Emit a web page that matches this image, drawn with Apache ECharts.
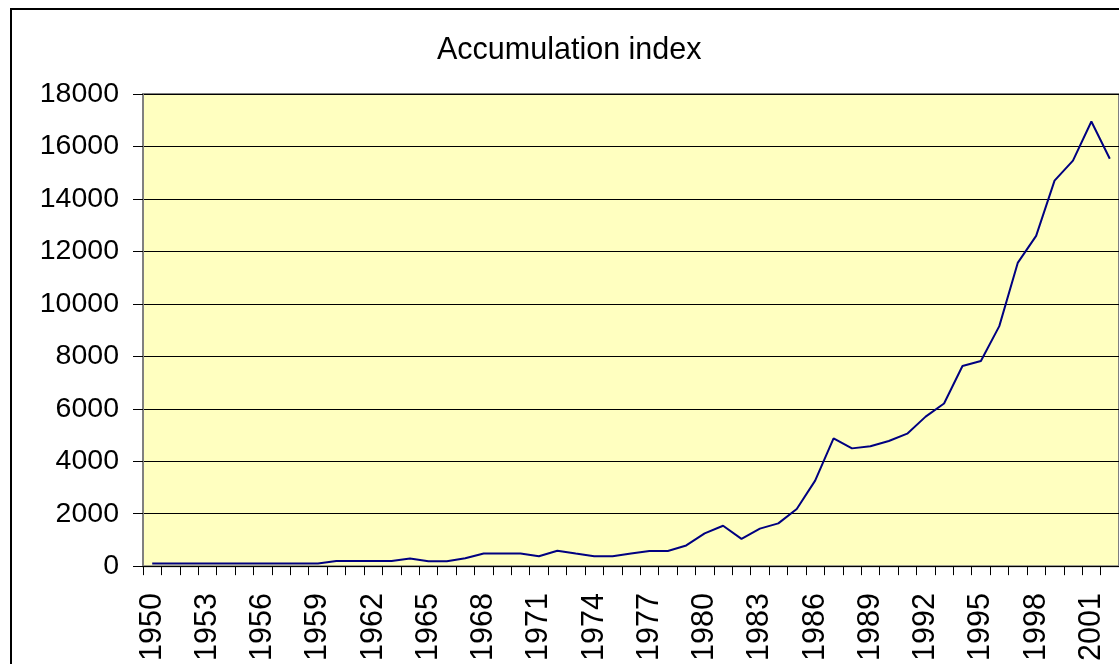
<!DOCTYPE html>
<html>
<head>
<meta charset="utf-8">
<title>Accumulation index</title>
<script src="https://cdn.jsdelivr.net/npm/echarts@6/dist/echarts.min.js"></script>
<style>
  html, body { margin: 0; padding: 0; background: #fff; }
  #chart { width: 1119px; height: 664px; }
</style>
</head>
<body>
<div id="chart"></div>
<script>
var years = [];
for (var y = 1950; y <= 2002; y++) years.push(String(y));

// values, one per year
var accumulation = [
  100, 100, 100, 100, 100, 100, 100, 100, 100, 100,   // 1950-1959
  200, 200, 200, 200, 290, 190, 190, 300, 480, 480,   // 1960-1969
  480, 380, 590, 480, 380, 380, 480, 580, 580, 790,   // 1970-1979
  1250, 1540, 1040, 1430, 1630, 2180, 3260, 4870, 4490, 4570, // 1980-1989
  4770, 5050, 5700, 6200, 7630, 7820, 9150, 11560, 12590, 14700, // 1990-1999
  15460, 16950, 15530                                  // 2000-2002
];

var yTicks = { min: 0, max: 18000, step: 2000 };

var dom = document.getElementById("chart");
var myChart = echarts.init(dom);
var font = "'Liberation Sans', Arial, sans-serif";

var option = {
    animation: false,
    backgroundColor: '#ffffff',
    title: {
        text: 'Accumulation index',
        left: 432,
        top: 30,
        textStyle: { fontFamily: font, fontSize: 30.5, fontWeight: 'normal', color: '#000' }
    },
    graphic: [{
        type: 'rect',
        shape: { x: 11, y: 9, width: 1200, height: 700 },
        style: { fill: null, stroke: '#000', lineWidth: 2 },
        z: 100
    }],
    grid: {
        left: 143,
        top: 94,
        right: -3,
        bottom: 96,
        show: true,
        backgroundColor: '#FFFFC0',
        borderColor: '#808080',
        borderWidth: 2
    },
    xAxis: {
        type: 'category',
        data: years,
        boundaryGap: true,
        axisLine: { lineStyle: { color: '#000', width: 1 } },
        axisTick: { show: true, interval: 0, length: 9, lineStyle: { color: '#000' } },
        axisLabel: {
            interval: 2,
            rotate: 90,
            margin: 27,
            fontFamily: font,
            fontSize: 30.5,
            color: '#000'
        },
        splitLine: { show: false }
    },
    yAxis: {
        type: 'value',
        min: yTicks.min,
        max: yTicks.max,
        interval: yTicks.step,
        axisLine: { show: true, lineStyle: { color: '#808080', width: 1 } },
        axisTick: { show: true, length: 10, lineStyle: { color: '#000' } },
        axisLabel: {
            margin: 24,
            fontFamily: font,
            fontSize: 28.5,
            color: '#000',
            formatter: function (v) { return String(v); }
        },
        splitLine: { show: true, lineStyle: { color: '#000', width: 1 } }
    },
    series: [{
        name: 'Accumulation index',
        type: 'line',
        data: accumulation,
        symbol: 'none',
        lineStyle: { color: '#000080', width: 2 }
    }]
};

if (option && typeof option === "object") {
    myChart.setOption(option, true);
}
</script>
</body>
</html>
